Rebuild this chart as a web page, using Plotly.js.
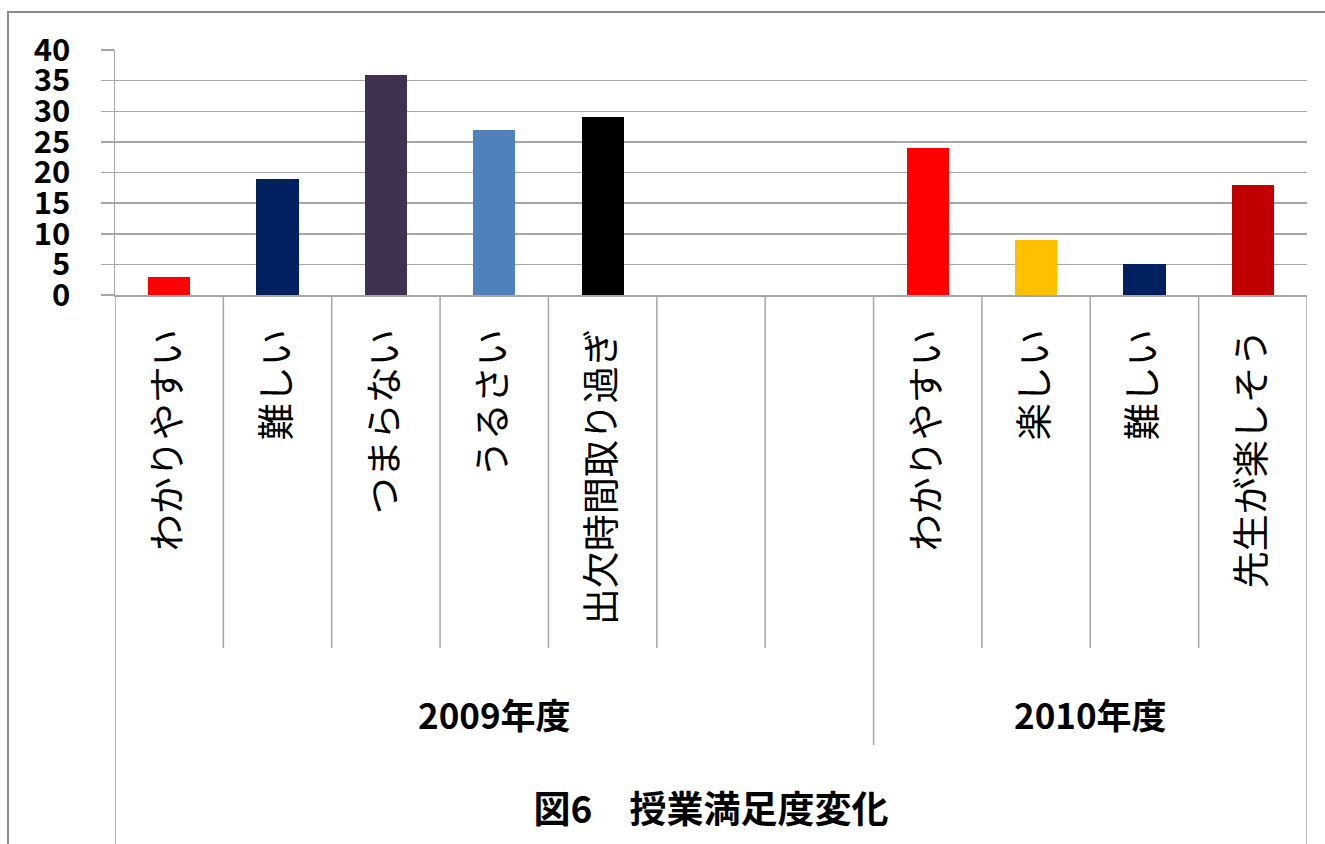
<!DOCTYPE html>
<html>
<head>
<meta charset="utf-8">
<script src="https://cdn.plot.ly/plotly-3.0.1.min.js"></script>
<style>html,body{margin:0;padding:0;background:#fff;}#chart{width:1325px;height:844px;}</style>
</head>
<body>
<div id="chart"></div>
<script>
const chartTitle = '図6　授業満足度変化';
const groups = ['2009年度', '2010年度'];
const groupOf = [0, 0, 0, 0, 0, 0, 0, 1, 1, 1, 1];
const categories = ['わかりやすい', '難しい', 'つまらない', 'うるさい', '出欠時間取り過ぎ', '', '',
                    'わかりやすい', '楽しい', '難しい', '先生が楽しそう'];
const values = [3, 19, 36, 27, 29, null, null, 24, 9, 5, 18];
const colors = ['#FF0000', '#002060', '#403151', '#4F81BD', '#000000', '#FFFFFF', '#FFFFFF',
                '#FF0000', '#FFC000', '#002060', '#C00000'];
const yTicks = [0, 5, 10, 15, 20, 25, 30, 35, 40];

const idx = categories.map((c, i) => i);
const JP = '"Noto Sans CJK JP", "Noto Sans", sans-serif';
const lineCol = '#a6a6a6';

const trace = {
  type: 'bar',
  x: idx,
  y: values,
  width: 0.39,
  marker: {color: colors, line: {width: 0}},
  hoverinfo: 'skip'
};

// divider lines below the plot
const shapes = [];
const n = categories.length;
for (let b = -0.5; b <= n - 0.5 + 1e-9; b += 1) {
  const left = Math.round(b - 0.5), right = Math.round(b + 0.5);
  let depth;
  if (left < 0 || right >= n) depth = -600;             // outer edges
  else if (groupOf[left] !== groupOf[right]) depth = -450; // group divider
  else depth = -353;                                      // category divider
  shapes.push({type: 'line', xref: 'x', x0: b, x1: b, yref: 'paper', ysizemode: 'pixel',
               yanchor: 0, y0: 0, y1: depth, line: {color: lineCol, width: 1.5}});
}
// outer frame
shapes.push({type: 'rect', xref: 'paper', xsizemode: 'pixel', xanchor: 0, x0: -107, x1: 1300,
             yref: 'paper', ysizemode: 'pixel', yanchor: 1, y0: 38, y1: -900,
             line: {color: '#8c8c8c', width: 2}, fillcolor: 'rgba(0,0,0,0)'});

const annotations = groups.map((g, gi) => {
  const members = idx.filter(i => groupOf[i] === gi);
  const center = (Math.min(...members) + Math.max(...members)) / 2;
  return {text: g, xref: 'x', x: center, yref: 'paper', y: 0, yanchor: 'middle', yshift: -418,
          showarrow: false, font: {family: JP, size: 35, color: '#000', weight: 'bold'}};
});

const layout = {
  width: 1325, height: 844,
  margin: {l: 115, r: 18, t: 50, b: 549},
  paper_bgcolor: '#fff', plot_bgcolor: '#fff',
  showlegend: false,
  title: {text: chartTitle, xref: 'paper', x: 0.5, xanchor: 'center', yref: 'container',
          y: 1 - 810 / 844, yanchor: 'middle',
          font: {family: JP, size: 37, color: '#000', weight: 'bold'}},
  xaxis: {
    range: [-0.5, n - 0.5], tickmode: 'array', tickvals: idx, ticktext: categories,
    tickangle: -90, ticks: '', ticklabelstandoff: 18, showgrid: false, zeroline: false,
    showline: true, linecolor: lineCol, linewidth: 1.5,
    tickfont: {family: JP, size: 37, color: '#000'}, fixedrange: true
  },
  yaxis: {
    range: [0, 40], tickmode: 'array', tickvals: yTicks, ticktext: yTicks.map(String),
    ticks: 'outside', ticklen: 13, tickcolor: lineCol, tickwidth: 1.5,
    showgrid: true, gridcolor: lineCol, gridwidth: 1.5, zeroline: false,
    showline: true, linecolor: lineCol, linewidth: 1.5, ticklabelstandoff: 24,
    tickfont: {family: JP, size: 31, color: '#000', weight: 'bold'}, fixedrange: true
  },
  shapes: shapes,
  annotations: annotations,
  bargap: 0
};

Plotly.newPlot('chart', [trace], layout, {staticPlot: true, displayModeBar: false});
</script>
</body>
</html>
